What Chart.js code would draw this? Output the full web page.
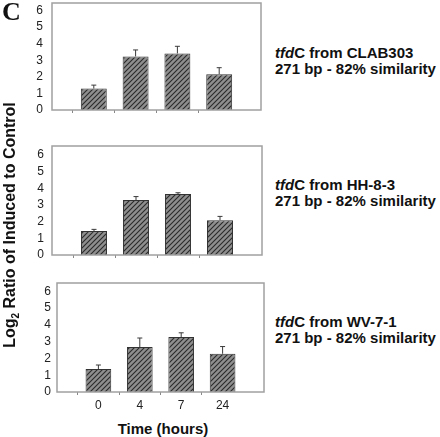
<!DOCTYPE html>
<html>
<head>
<meta charset="utf-8">
<script src="https://cdn.jsdelivr.net/npm/chart.js@4.4.0/dist/chart.umd.min.js"></script>
<style>
    body { margin: 0; background: #fff; }
    #wrap { position: relative; width: 440px; height: 437px; overflow: hidden; font-family: "Liberation Sans", Arial, sans-serif; }
    canvas { position: absolute; left: 0; }
    .lbl { position: absolute; left: 275px; font-weight: bold; font-size: 15px; line-height: 16px; color: #111; white-space: nowrap; }
    .lbl i { font-style: italic; }
    #panelC { position: absolute; left: 2px; top: -3px; font-family: "Liberation Serif", serif; font-weight: bold; font-size: 26px; color: #111; }
    #ytitle { position: absolute; left: 11px; top: 225px; transform: translate(-50%, -50%) rotate(-90deg); font-weight: bold; font-size: 16px; color: #111; white-space: nowrap; }
    #ytitle sub { font-size: 10px; }
    #xtitle { position: absolute; left: 163px; top: 428px; transform: translate(-50%, -50%); font-weight: bold; font-size: 15px; color: #111; white-space: nowrap; }
</style>
</head>
<body>
<div id="wrap">
    <canvas id="chart1"></canvas>
    <canvas id="chart2"></canvas>
    <canvas id="chart3"></canvas>
    <div id="panelC">C</div>
    <div class="lbl" style="top:45px"><i>tfd</i>C from CLAB303<br>271 bp - 82% similarity</div>
    <div class="lbl" style="top:177px"><i>tfd</i>C from HH-8-3<br>271 bp - 82% similarity</div>
    <div class="lbl" style="top:314px"><i>tfd</i>C from WV-7-1<br>271 bp - 82% similarity</div>
    <div id="ytitle">Log<sub>2</sub> Ratio of Induced to Control</div>
    <div id="xtitle">Time (hours)</div>
</div>
<script>
// Time points (blank slots at each end keep the spacing of the original)
const timeLabels = ['', '0', '4', '7', '24', ''];
const yTicks = [0, 1, 2, 3, 4, 5, 6];

// CLAB303
const clabValues = [1.29, 3.23, 3.41, 2.16];
const clabErrors = [0.21, 0.39, 0.43, 0.39];
// HH-8-3
const hhValues = [1.44, 3.30, 3.66, 2.09];
const hhErrors = [0.10, 0.21, 0.08, 0.23];
// WV-7-1
const wvValues = [1.37, 2.68, 3.28, 2.28];
const wvErrors = [0.24, 0.54, 0.25, 0.43];

// hatched gray fill
function makeHatch() {
    const c = document.createElement('canvas');
    c.width = 5; c.height = 5;
    const g = c.getContext('2d');
    g.fillStyle = '#8e8e8e';
    g.fillRect(0, 0, 5, 5);
    g.strokeStyle = '#2a2a2a';
    g.lineWidth = 1.1;
    g.beginPath();
    g.moveTo(-1, 6); g.lineTo(6, -1);
    g.moveTo(-1, 1); g.lineTo(1, -1);
    g.moveTo(4, 6); g.lineTo(6, 4);
    g.stroke();
    return g.createPattern(c, 'repeat');
}
const hatch = makeHatch();

const frameAndErrors = {
    id: 'frameAndErrors',
    afterDatasetsDraw(chart, args, opts) {
        const ctx = chart.ctx;
        const a = chart.chartArea;
        const y = chart.scales.y;
        const meta = chart.getDatasetMeta(0);
        const vals = chart.data.datasets[0].data;
        ctx.save();
        ctx.strokeStyle = '#3a3a3a';
        ctx.lineWidth = 1;
        vals.forEach((v, i) => {
            if (v === null) return;
            const x = meta.data[i].x;
            const top = y.getPixelForValue(v + opts.errors[i - 1]);
            ctx.beginPath();
            ctx.moveTo(x, y.getPixelForValue(v));
            ctx.lineTo(x, top);
            ctx.moveTo(x - 2.5, top);
            ctx.lineTo(x + 2.5, top);
            ctx.stroke();
        });
        ctx.strokeStyle = '#a0a0a0';
        ctx.lineWidth = 1.5;
        ctx.strokeRect(a.left, a.top, a.right - a.left, a.bottom - a.top);
        ctx.restore();
    }
};

function makePanel(id, values, errors, box, showLabels) {
    const el = document.getElementById(id);
    const xh = showLabels ? 20 : 6;
    el.width = box.right + 2;
    el.height = box.bottom - box.top + xh + 1;
    el.style.top = box.top + 'px';

    new Chart(el, {
        type: 'bar',
        data: {
            labels: timeLabels,
            datasets: [{
                data: [null, ...values, null],
                backgroundColor: hatch,
                borderColor: '#333',
                borderWidth: 1,
                barPercentage: 0.62,
                categoryPercentage: 1,
            }],
        },
        options: {
            responsive: false,
            animation: false,
            events: [],
            layout: { padding: { top: 1, right: 2, left: 0, bottom: 0 } },
            plugins: {
                legend: { display: false },
                tooltip: { enabled: false },
                frameAndErrors: { errors: errors },
            },
            scales: {
                x: {
                    offset: false,
                    border: { display: false },
                    grid: {
                        drawOnChartArea: false,
                        tickLength: 3,
                        color: (c) => (c.index === 0 || c.index === timeLabels.length - 1) ? 'rgba(0,0,0,0)' : '#888',
                    },
                    ticks: {
                        color: showLabels ? '#222' : 'rgba(0,0,0,0)',
                        font: { family: 'Liberation Sans', size: 12 },
                        padding: 3,
                        maxRotation: 0,
                        autoSkip: false,
                    },
                    afterFit(scale) {
                        scale.height = xh;
                        scale.paddingLeft = 0;
                        scale.paddingRight = 0;
                    },
                },
                y: {
                    min: 0,
                    max: box.max,
                    border: { display: false },
                    grid: { display: false, drawTicks: false },
                    ticks: {
                        color: '#222',
                        font: { family: 'Liberation Sans', size: 12 },
                        padding: box.pad,
                        autoSkip: false,
                    },
                    afterBuildTicks(scale) {
                        scale.ticks = yTicks.map(v => ({ value: v }));
                    },
                    afterFit(scale) {
                        scale.width = box.left;
                        scale.paddingTop = 0;
                        scale.paddingBottom = 0;
                    },
                },
            },
        },
        plugins: [frameAndErrors],
    });
}

makePanel('chart1', clabValues, clabErrors, { left: 52, right: 261, top: 2, bottom: 109, max: 6.45, pad: 9 }, false);
makePanel('chart2', hhValues, hhErrors, { left: 52, right: 262, top: 145, bottom: 254, max: 6.55, pad: 8 }, false);
makePanel('chart3', wvValues, wvErrors, { left: 57, right: 264, top: 282, bottom: 391, max: 6.5, pad: 6 }, true);
</script>
</body>
</html>
